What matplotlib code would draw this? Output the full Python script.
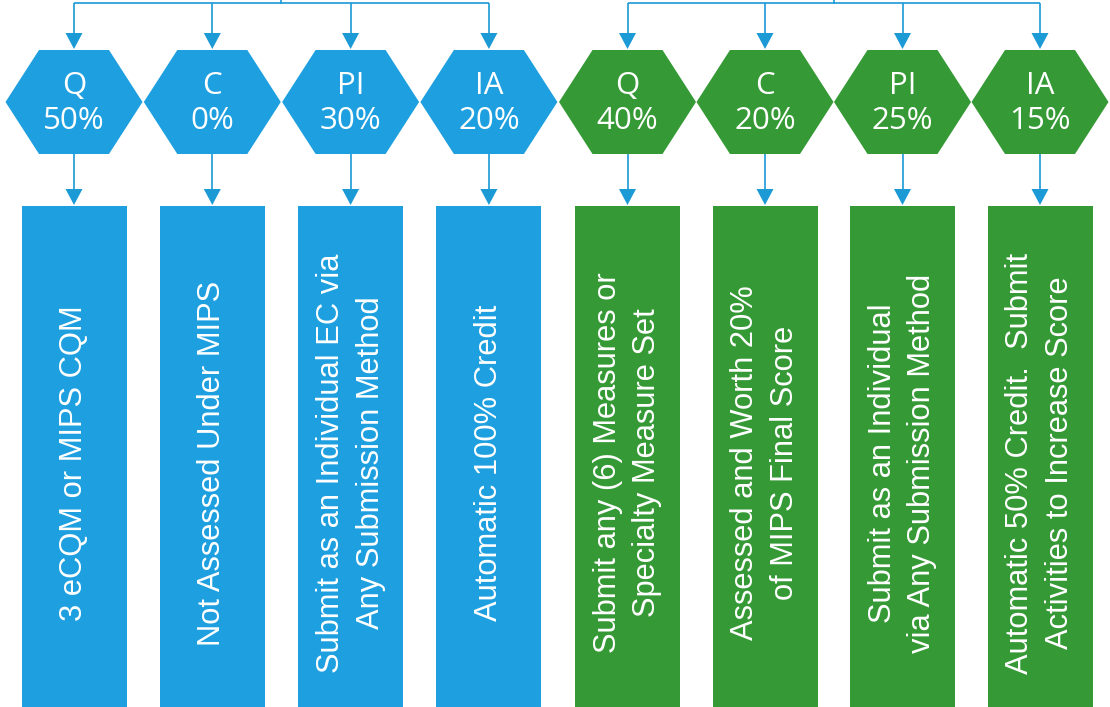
import matplotlib
matplotlib.use("Agg")
import matplotlib.pyplot as plt
from matplotlib import font_manager as fm
from matplotlib.patches import Polygon, Rectangle

# ---- data ----
categories = ["Q", "C", "PI", "IA"]
weights_blue = [50, 0, 30, 20]
weights_green = [40, 20, 25, 15]
desc_blue = [
    "3 eCQM or MIPS CQM",
    "Not Assessed Under MIPS",
    "Submit as an Individual EC via\nAny Submission Method",
    "Automatic 100% Credit",
]
desc_green = [
    "Submit any (6) Measures or\nSpecialty Measure Set",
    "Assessed and Worth 20%\nof MIPS Final Score",
    "Submit as an Individual\nvia Any Submission Method",
    "Automatic 50% Credit.  Submit\nActivities to Increase Score",
]

BLUE = "#1EA0E0"
GREEN = "#359A35"
LINE = "#1B9AD6"

names = {f.name for f in fm.fontManager.ttflist}
if "Liberation Sans Narrow" in names:
    NARROW, NSIZE, LSP = "Liberation Sans Narrow", 27, 1.15
else:
    NARROW, NSIZE, LSP = "Liberation Sans", 22.2, 1.43
HEXFONT = "Open Sans" if "Open Sans" in names else "DejaVu Sans"

W, H = 1110, 707
fig = plt.figure(figsize=(W / 100, H / 100), dpi=100)
ax = fig.add_axes([0, 0, 1, 1])
ax.set_xlim(0, W)
ax.set_ylim(H, 0)
ax.axis("off")

hex_top, hex_bot = 50, 154
hex_mid = (hex_top + hex_bot) / 2
hex_hw, hex_fw = 68.5, 35
rect_top, rect_bot, rect_hw = 206, 707, 52.5
lw = 1.2


def arrow_down(x, y0, y1):
    # line from y0 to arrow head whose tip is at y1
    head_len, head_hw = 16, 8.5
    ax.plot([x, x], [y0, y1 - head_len + 1], color=LINE, lw=lw, solid_capstyle="butt")
    ax.add_patch(Polygon([[x - head_hw, y1 - head_len], [x + head_hw, y1 - head_len], [x, y1]],
                         closed=True, facecolor=LINE, edgecolor="none"))


def group(x0, step, weights, descs, fill):
    xs = [x0 + step * i for i in range(len(categories))]
    # top connector
    ax.plot([xs[0], xs[-1]], [3, 3], color=LINE, lw=lw, solid_capstyle="butt")
    mid = (xs[0] + xs[-1]) / 2
    ax.plot([mid, mid], [0, 3], color=LINE, lw=lw)
    for x, cat, w, d in zip(xs, categories, weights, descs):
        arrow_down(x, 3, hex_top - 1)
        ax.add_patch(Polygon([[x - hex_hw, hex_mid], [x - hex_fw, hex_top], [x + hex_fw, hex_top],
                              [x + hex_hw, hex_mid], [x + hex_fw, hex_bot], [x - hex_fw, hex_bot]],
                             closed=True, facecolor=fill, edgecolor="none"))
        ax.text(x, 86, cat, color="white", fontsize=22.5, family=HEXFONT,
                ha="center", va="center")
        ax.text(x, 121, f"{w}%", color="white", fontsize=22.5, family=HEXFONT,
                ha="center", va="center")
        arrow_down(x, hex_bot, rect_top - 1)
        ax.add_patch(Rectangle((x - rect_hw, rect_top), 2 * rect_hw, rect_bot - rect_top,
                               facecolor=fill, edgecolor="none"))
        ax.text(x, 463, d, color="white", fontsize=NSIZE, family=NARROW, rotation=90,
                ha="center", va="center", multialignment="center", linespacing=LSP)


group(74, 138.3, weights_blue, desc_blue, BLUE)
group(627.5, 137.5, weights_green, desc_green, GREEN)

fig.savefig("out.png", dpi=100)
